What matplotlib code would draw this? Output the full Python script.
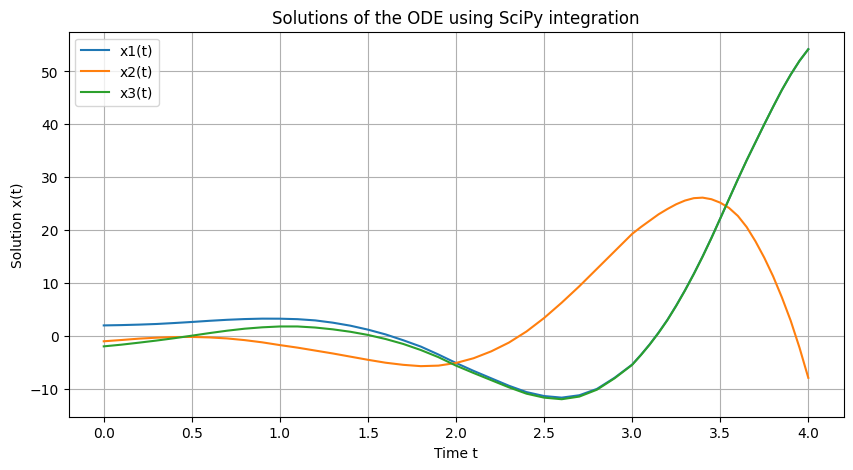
import numpy as np
import matplotlib
matplotlib.use('Agg')
import matplotlib.pyplot as plt

# values
t = [0.0, 0.1, 0.2, 0.3, 0.4, 0.5, 0.6, 0.7, 0.8, 0.9,
     1.0, 1.1, 1.2, 1.3, 1.4, 1.5, 1.6, 1.7, 1.8, 1.9,
     2.0, 2.1, 2.2, 2.3, 2.4, 2.5, 2.6, 2.7, 2.8, 2.9,
     3.0, 3.05, 3.1, 3.15, 3.2, 3.25, 3.3, 3.35, 3.4, 3.45,
     3.5, 3.55, 3.6, 3.65, 3.7, 3.75, 3.8, 3.85, 3.9, 3.95, 4.0]

x1 = [2.0, 2.06, 2.15, 2.27, 2.45, 2.65, 2.87, 3.06, 3.2, 3.28,
      3.27, 3.18, 2.95, 2.52, 1.95, 1.2, 0.3, -0.8, -2.0, -3.5,
      -5.1, -6.6, -8.0, -9.4, -10.6, -11.35, -11.65, -11.2, -10.0, -7.9,
      -5.4, -3.55, -1.55, 0.65, 3.05, 5.75, 8.65, 11.75, 15.05, 18.55,
      22.2, 25.9, 29.6, 33.2, 36.6, 40.0, 43.3, 46.5, 49.4, 52.0, 54.2]

x2 = [-1.0, -0.76, -0.5, -0.32, -0.2, -0.18, -0.27, -0.46, -0.78, -1.2,
      -1.72, -2.2, -2.75, -3.3, -3.9, -4.5, -5.05, -5.45, -5.7, -5.6,
      -5.1, -4.2, -2.9, -1.25, 0.85, 3.4, 6.3, 9.4, 12.7, 16.0,
      19.3, 20.6, 21.8, 23.0, 24.0, 24.9, 25.6, 26.05, 26.15, 25.85,
      25.2, 24.2, 22.7, 20.6, 17.9, 14.8, 11.3, 7.3, 2.9, -2.2, -7.9]

x3 = [-1.96, -1.64, -1.26, -0.86, -0.42, 0.06, 0.55, 1.0, 1.38, 1.64,
      1.8, 1.8, 1.6, 1.26, 0.8, 0.2, -0.57, -1.5, -2.65, -4.0,
      -5.6, -7.0, -8.35, -9.7, -10.9, -11.65, -11.95, -11.45, -10.15, -8.0,
      -5.45, -3.6, -1.6, 0.6, 3.0, 5.7, 8.6, 11.7, 15.0, 18.5,
      22.2, 25.9, 29.6, 33.2, 36.6, 40.0, 43.3, 46.5, 49.4, 52.0, 54.2]

plt.figure(figsize=(10, 5))
plt.plot(t, x1, label='x1(t)')
plt.plot(t, x2, label='x2(t)')
plt.plot(t, x3, label='x3(t)')
plt.xlabel('Time t')
plt.ylabel('Solution x(t)')
plt.title('Solutions of the ODE using SciPy integration')
plt.legend()
plt.grid(True)
plt.savefig('out.png', dpi=100, bbox_inches='tight')
